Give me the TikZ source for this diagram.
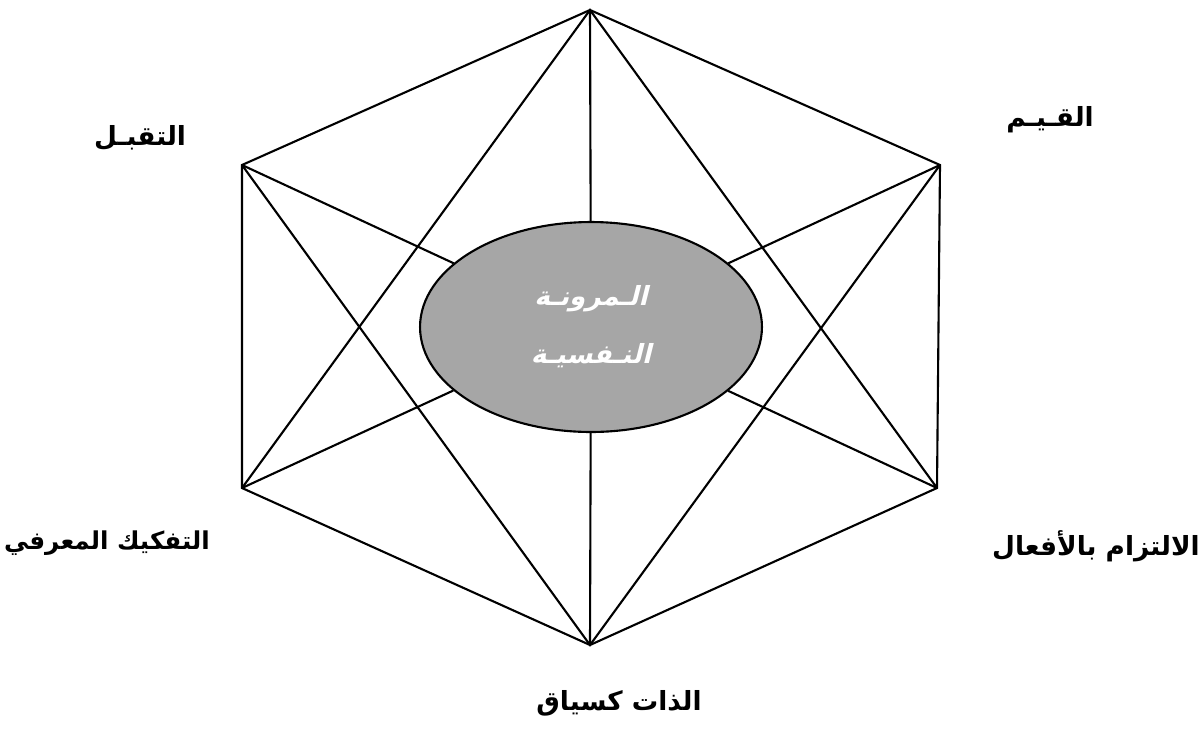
\documentclass[tikz,border=0pt]{standalone}
\usepackage{fontspec}
\newfontfamily\arabicfont[Script=Arabic]{DejaVu Sans}
\newfontfamily\arabicslant[Script=Arabic, FakeSlant=0.25]{DejaVu Sans}
\TeXXeTstate=1
\usetikzlibrary{shapes.geometric}
\definecolor{coregray}{HTML}{A6A6A6}

\begin{document}
\begin{tikzpicture}[x=0.02cm, y=-0.02cm, line width=1.2pt,
    every node/.style={font=\arabicfont\bfseries\fontsize{15}{18}\selectfont}]
  \useasboundingbox (0,0) rectangle (1201,731);
  % hexagon corners
  \coordinate (top) at (590,10);
  \coordinate (ur) at (940,165);
  \coordinate (lr) at (937,488);
  \coordinate (bot) at (590,645);
  \coordinate (ll) at (242,488);
  \coordinate (ul) at (242,165);
  \draw (top) -- (ur) -- (lr) -- (bot) -- (ll) -- (ul) -- cycle;
  \draw (ll) -- (top) -- (lr);
  \draw (ul) -- (bot) -- (ur);
  % core
  \node[ellipse, draw, fill=coregray, minimum width=6.84cm, minimum height=4.2cm,
        text=white, align=center, font=\arabicslant\bfseries\fontsize{15}{33}\selectfont] (core) at (591,327)
        {\beginR الـمرونـة\endR\\ \beginR النـفسيـة\endR};
  \foreach \c in {top,ur,lr,bot,ll,ul}
    \draw (\c) -- (core);
  % labels
  \node (qiyam) at (1050,120) {\beginR القـيـم\endR};
  \node (taqabbul) at (140,138) {\beginR التقبـل\endR};
  \node (iltizam) at (1096,546) {\beginR الالتزام بالأفعال\endR};
  \node[font=\arabicfont\bfseries\fontsize{14}{18}\selectfont] (tafkik) at (107,543) {\beginR التفكيك المعرفي\endR};
  \node (dhat) at (619,703) {\beginR الذات كسياق\endR};
\end{tikzpicture}
\end{document}
